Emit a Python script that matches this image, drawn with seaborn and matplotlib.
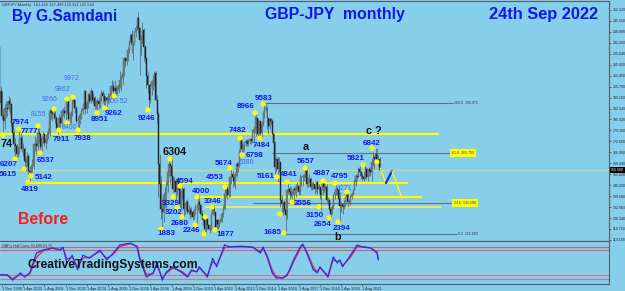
import numpy as np
import seaborn as sns
import matplotlib.pyplot as plt

# GBPJPY monthly, Oct 1998 .. Sep 2022 (month index 0 = Dec 1998)
start_month = -2
first_open = 230.0
close = [196, 203, 188,
         185, 193, 193, 192, 197, 195, 184, 178, 171, 170, 165, 166,
         174, 175, 168, 168, 161, 160, 164, 155, 154, 157, 158, 171,
         171, 170, 178, 177, 169, 175, 177, 172, 174, 177, 177, 191,
         190, 189, 189, 187, 181, 183, 187, 184, 191, 191, 190, 191,
         197, 186, 187, 190, 196, 198, 193, 185, 185, 186, 188, 191,
         193, 203, 192, 196, 201, 197, 203, 198, 199, 194, 197, 197,
         195, 200, 202, 200, 197, 199, 198, 199, 200, 206, 206, 203,
         205, 203, 204, 207, 210, 211, 214, 223, 221, 223, 228, 233,
         237, 232, 232, 239, 241, 247, 241, 234, 234, 240, 230, 223,
         212, 207, 198, 206, 209, 211, 214, 198, 189, 159, 147, 132,
         130, 140, 141, 146, 154, 159, 158, 152, 144, 149, 142, 150,
         145, 135, 142, 144, 132, 132, 136, 130, 131, 129, 130, 127,
         131, 133, 133, 136, 134, 129, 126, 125, 120, 126, 122, 120,
         120, 129, 133, 130, 121, 125, 123, 124, 126, 129, 132, 141,
         145, 140, 143, 151, 153, 151, 149, 152, 159, 158, 167, 174,
         168, 170, 172, 173, 171, 173, 174, 173, 178, 180, 186, 187,
         177, 185, 178, 183, 190, 192, 193, 187, 182, 186, 185, 177,
         172, 157, 162, 156, 160, 137, 135, 136, 131, 128, 143, 144,
         142, 140, 140, 144, 143, 146, 146, 142, 151, 151, 152, 152,
         155, 147, 149, 150, 145, 146, 147, 144, 148, 144, 145, 140,
         143, 148, 145, 145, 137, 137, 132, 129, 133, 140, 142, 144,
         143, 138, 133.5, 135, 133, 134, 139, 141, 136, 136, 139, 141,
         143, 148, 152, 151, 156, 154, 152, 151, 150, 156, 151, 156,
         155, 154, 160, 163, 162, 165, 162, 162, 155.5]
high = [231, 206, 203,
        192, 195, 197, 197, 200, 199, 196, 186, 179, 175, 171, 169,
        179.7, 178, 176, 172, 169, 164, 166, 165, 158, 159, 162, 172,
        176, 174, 181.6, 181, 178, 176, 179, 178, 177, 179, 181, 192,
        193, 191, 192.7, 191, 188, 185, 189, 188, 192, 193, 194, 193,
        198.6, 197, 190, 191, 199, 199.7, 198, 194, 188, 189, 190, 192,
        196, 204, 203, 198, 202, 202, 205, 204, 202, 200, 198, 199,
        199, 201, 204, 204, 202, 200, 200, 202, 202, 207, 210, 209,
        210, 206, 207, 209, 215, 213, 215, 224, 223, 225, 230, 234,
        238, 240, 233, 239.5, 243, 248, 251.1, 242, 237, 245, 241, 231,
        223, 215, 207, 208, 210, 213, 215, 215, 201, 191, 165, 152,
        138, 142, 145, 149, 157, 162, 160, 163, 152, 151, 150, 150.5,
        151, 146, 143, 146, 145, 136, 137, 138, 134, 133, 133, 131,
        132, 135, 135.5, 140, 140, 135, 131, 128, 126, 127, 126, 123,
        122, 130, 133.5, 134, 130, 126, 126, 125, 128, 130, 134, 141,
        145.5, 146, 146, 152, 156.7, 155, 153, 154, 160, 160, 168, 174.8,
        173, 171, 173, 174, 174, 174, 175, 175, 180, 182, 188, 189.7,
        186, 185.5, 185, 185, 191, 195.9, 195, 194, 187, 187, 187, 186,
        178, 173, 163, 163, 163, 160, 140, 136, 137, 131, 144, 148.4,
        146, 145, 143, 145, 146, 147, 148, 146, 152.8, 152, 153, 153,
        156.6, 156, 151, 153, 151, 148, 149, 146, 149, 149, 147, 145,
        144, 148, 148.9, 147, 147, 139, 137, 132, 134, 140, 142, 147.9,
        145, 144.8, 142, 136, 134, 137, 139, 142.7, 142, 138, 140, 142,
        144, 150, 153, 153, 157, 158, 155, 153, 154, 158.2, 157, 156,
        157, 157, 162, 166, 164, 168.7, 168, 164.5, 163.1]
low = [186, 193, 186,
       176.5, 180, 187, 188, 191, 189, 182, 175, 166, 162.1, 163, 163,
       165, 170, 166, 164, 156.2, 155, 158, 153, 148.2, 151.4, 154, 156,
       167, 165, 167, 172, 165.4, 167, 172, 170, 168, 172, 174, 176,
       186, 185, 186, 184, 180, 177, 179.1, 180, 182, 188, 187, 184,
       189, 185, 184, 184, 188, 193, 190, 184, 179.4, 181, 183, 186,
       189, 192, 189.5, 190, 193, 196, 196, 197, 196, 192, 192, 189.5,
       192, 193, 197, 196, 194, 192.6, 194, 196, 197, 199, 203, 202,
       200.5, 200.6, 200.6, 202, 205, 203, 207, 212, 218, 219, 221, 226,
       231, 226, 222, 231, 236, 240, 238, 213, 225, 232, 221, 220,
       205, 202, 192.5, 196, 201, 204, 206, 197, 184, 139.3, 140, 126,
       118.8, 124, 133, 130, 142, 152, 147, 148, 142, 142, 137, 140,
       143, 133.3, 132, 138, 126.8, 129, 131, 129, 128, 126, 127, 125,
       126, 129, 122.5, 131, 130, 128, 125, 122, 117.5, 116.8, 120, 119,
       117.3, 119, 128, 128, 120, 118.8, 120, 121, 124, 124, 127, 131,
       139, 138, 139, 139, 147, 145, 146, 144, 151, 154, 157, 166,
       165, 166, 167, 170, 170, 170, 172, 171, 172, 172.6, 178, 175.7,
       174.8, 176, 176, 175, 182, 187, 191, 180, 177, 180, 183, 177,
       163.9, 153, 155, 148, 154, 133, 130, 128, 130, 116.85, 126, 141,
       138, 139, 136, 135.6, 141, 139, 143, 140, 140, 146, 146, 149,
       151, 145, 145, 148, 143, 143, 144, 141, 142, 141, 142, 138,
       131.5, 140, 142, 143, 136, 134, 131, 126.5, 129, 132, 138, 140,
       140, 137, 124, 130, 129, 132, 133, 137, 133, 135, 134, 138,
       140, 143, 146, 149, 151, 152, 150, 149, 149, 150, 150, 149,
       152, 152, 149, 158, 156, 159, 159, 159.3, 154.5]

# swing points (yellow dots)
dot_m = [0.8, 12.8, 27.2, 39.2, 49.1, 53.6, 49.1, 43.0, 57.4, 71.7, 77.7, 84.5, 110.2,
         9.8, 28.7, 16.6, 21.9, 19.6, 126.8, 134.3, 129.1, 132.1, 135.8, 145.7, 120.0,
         147.2, 158.5, 168.3, 172.1, 181.1, 179.6, 190.9, 197.0, 194.7, 160.8, 152.5,
         153.2, 228.7, 207.5, 215.1, 218.9, 242.3, 251.3, 260.4, 272.5, 239.2, 246.8,
         253.6, 212.8, 209.8, 279.2, 283.0]
dot_p = [176.6, 180.2, 182.0, 192.3, 198.3, 199.5, 183.8, 179.6, 179.6, 189.9, 192.9, 200.1, 191.7,
         162.0, 165.7, 156.0, 151.8, 148.1, 162.0, 145.7, 139.1, 132.4, 127.0, 122.1, 119.7,
         139.1, 133.0, 145.1, 156.6, 164.5, 174.7, 189.9, 195.3, 174.7, 119.1, 116.7,
         127.0, 156.6, 151.2, 148.1, 136.0, 148.7, 147.5, 142.1, 158.4, 133.2, 126.4,
         123.9, 117.3, 128.8, 168.7, 160.2]

# swing labels: text, month, price, style (b = bold blue, l = light blue, k = black wave label)
label_text = ["9972", "9862", "9266", "8155", "200.52", "6386", "4271", "8400",
              "7974", "7777", "7911", "7938", "8951", "9262", "9246", "6207", "6537",
              "5615", "5142", "4819", "4594", "3329", "3202", "2680", "2246", "1883",
              "4000", "3346", "1877", "4553", "5674", "7482", "8966", "9583", "7484",
              "6798", "5657", "5161", "4841", "3556", "4887", "4795", "5821", "3150",
              "2654", "2394", "1685", "6842",
              "74", "6304", "a", "b", "c ?"]
label_m = [52.8, 45.3, 35.5, 27.2, 86.8, 184.2, 258.9, 50.6,
           13.6, 20.4, 44.5, 61.1, 74.0, 84.5, 109.4, 5.3, 33.2,
           4.5, 31.7, 21.1, 138.1, 127.5, 129.8, 134.3, 143.4, 123.8,
           150.2, 159.2, 168.3, 160.8, 167.5, 178.1, 184.2, 197.7, 196.2,
           190.9, 229.4, 199.2, 216.6, 227.2, 241.5, 255.1, 267.2, 236.2,
           242.3, 256.6, 203.8, 279.2,
           3.8, 130.6, 229.4, 253.6, 280.8]
label_p = [211.0, 203.8, 198.3, 189.2, 196.5, 160.2, 144.5, 180.8,
           184.4, 178.4, 174.1, 174.7, 186.2, 189.8, 186.8, 159.0, 161.4,
           152.4, 150.6, 143.3, 148.7, 135.4, 129.4, 123.3, 119.1, 116.7,
           142.1, 136.6, 116.1, 150.6, 159.6, 179.0, 193.5, 198.9, 169.9,
           163.9, 160.8, 151.2, 152.4, 135.4, 153.0, 151.2, 162.6, 127.6,
           122.7, 120.3, 117.3, 171.7,
           171.1, 166.3, 169.3, 114.9, 179.0]
label_kind = ["l"] * 8 + ["b"] * 40 + ["k"] * 5

# support / resistance lines
level_price = [177.15, 147.5, 139.06, 133.0]
level_from = [-1.5, 19.6, 147.2, 153.0]
level_to = [329.8, 306.4, 317.0, 332.0]

# fibonacci levels from the 2015 high to the 2016 low
fib_text = ["100.0  195.870", "61.8  165.700", "23.6  135.500", "0.0  116.850"]
fib_price = [195.87, 165.70, 135.50, 116.85]
fib_from = [197.0, 204.0, 189.4, 213.6]
fib_to = [340.4, 338.9, 340.4, 343.4]

# projected path after the last bar
proj_m = [285.3, 289.8, 294.3, 301.9]
proj_p = [156.6, 147.5, 154.8, 138.5]

# oscillator panel: main line and signal line
osc_m = [-2, 4, 8, 14, 17, 21, 26, 31, 38, 44, 46, 49, 53, 57, 61, 66, 74, 79, 84, 89,
         97, 102, 104, 109, 114, 117, 121, 124, 129, 136, 140, 143, 147, 149, 155, 159,
         162, 168, 172, 180, 189, 195, 197, 200, 204, 207, 212, 215, 217, 220, 225,
         227, 230, 235, 238, 240, 246, 250, 253, 255, 257, 263, 268, 272, 278, 283, 284]
osc_v = [21, 21, 9, 26, 16, 26, 72, 79, 84, 79, 86, 49, 67, 33, 67, 60, 79, 56, 72, 91,
         95, 86, 56, 16, 26, 49, 9, 28, 40, 26, 16, 33, 28, 40, 16, 60,
         40, 91, 86, 88, 86, 72, 86, 63, 26, 14, 14, 21, 33, 56, 86,
         93, 72, 33, 26, 40, 16, 63, 49, 56, 40, 67, 91, 86, 84, 72, 56]
osc_sig = [22, 21, 12, 22, 19, 24, 62, 77, 83, 80, 84, 58, 62, 40, 60, 62, 76, 60, 69, 87,
           94, 88, 62, 22, 24, 44, 14, 25, 37, 29, 19, 30, 29, 37, 20, 52,
           44, 84, 87, 87, 86, 75, 83, 67, 32, 17, 14, 19, 30, 51, 81,
           91, 76, 39, 28, 37, 20, 56, 52, 55, 43, 62, 87, 87, 84, 75, 60]
osc_levels = [86.7, 78.4, 20.2, 10.9]

price_ticks = [252.12, 245.50, 238.88, 232.26, 225.64, 219.02, 212.40, 205.78, 199.16,
               192.54, 185.92, 179.30, 172.68, 166.06, 159.44, 152.82, 146.20, 139.58,
               132.96, 126.34, 119.72, 113.10]
date_ticks = [0, 16, 32, 48, 64, 80, 96, 112, 128, 144, 160, 176, 192, 208, 224, 240, 256, 272]
date_labels = ["1 Dec 1998", "1 Apr 2000", "1 Aug 2001", "1 Dec 2002", "1 Apr 2004",
               "1 Aug 2005", "1 Dec 2006", "1 Apr 2008", "1 Aug 2009", "1 Dec 2010",
               "1 Apr 2012", "1 Aug 2013", "1 Dec 2014", "1 Apr 2016", "1 Aug 2017",
               "1 Dec 2018", "1 Apr 2020", "1 Aug 2021"]

SKY = "#87ceeb"
BLUE = "#1018e8"
sns.set_theme(style="white")
plt.rcParams['font.family'] = ['Liberation Sans', 'DejaVu Sans']

fig = plt.figure(figsize=(6.25, 2.91), dpi=100, facecolor=SKY)
ax = fig.add_axes([0, 50 / 291, 609 / 625, 240 / 291], facecolor=SKY)
ax2 = fig.add_axes([0, 7 / 291, 609 / 625, 43 / 291], facecolor=SKY)

# candles
months = np.arange(len(close)) + start_month
c = np.array(close, dtype=float)
o = np.r_[first_open, c[:-1]]
up = c >= o
ax.vlines(months, low, high, color="#5d6c78", lw=0.6, zorder=2)
ax.bar(months[up], (c - o)[up], bottom=o[up], width=0.75, color="#8c7b58",
       edgecolor="#5d6c78", lw=0.3, zorder=3)
ax.bar(months[~up], (c - o)[~up], bottom=o[~up], width=0.75, color="#202428",
       edgecolor="#202428", lw=0.3, zorder=3)

# levels
ax.hlines(level_price[:3], level_from[:3], level_to[:3], color="#ffff00", lw=1.5, zorder=1)
ax.hlines(level_price[3], level_from[3], level_to[3], color="#dfe87a", lw=1.5, zorder=1)
ax.axhline(close[-1], color="#c8e070", lw=0.7, zorder=1)
ax.hlines(fib_price, fib_from, fib_to, color="#5b7386", lw=0.8, zorder=1)
for i, (t, p, x1) in enumerate(zip(fib_text, fib_price, fib_to)):
    box = dict(boxstyle="square,pad=0.5", fc="#ffff00", ec="none") if i in (1, 2) else None
    ax.text(x1 + 0.8, p, t, fontsize=2.6, color="#333333", ha="left", va="center",
            bbox=box, zorder=4)

# projection
ax.plot(proj_m[:2], proj_p[:2], color="#ffff00", lw=0.9, zorder=4)
ax.plot(proj_m[1:3], proj_p[1:3], color="#1a2cf0", lw=1.6, zorder=4)
ax.plot(proj_m[2:], proj_p[2:], color="#ffff00", lw=0.9, zorder=4)

sns.scatterplot(x=dot_m, y=dot_p, color="#ffff00", s=14, edgecolor="none",
                ax=ax, zorder=5, legend=False)

styles = {"b": dict(fontsize=5.8, color=BLUE, fontweight="bold"),
          "l": dict(fontsize=5.0, color="#4468f2", fontweight="normal"),
          "k": dict(fontsize=7.8, color="#111111", fontweight="bold")}
for t, x, y, k in zip(label_text, label_m, label_p, label_kind):
    ax.text(x, y, t, ha="center", va="center", zorder=6, **styles[k])

ax.set_xlim(-1.5, 458.1)
ax.set_ylim(112.46, 257.56)
ax.set_xticks([])
ax.yaxis.tick_right()
ax.set_yticks(price_ticks)
ax.set_yticklabels([f"{v:.3f}" for v in price_ticks])
ax.tick_params(axis="y", labelsize=2.6, length=1.5, width=0.4, pad=1,
               colors="#222222", right=True, left=False)
for s in ax.spines.values():
    s.set_color("#4f5f6a")
    s.set_linewidth(0.8)
ax.spines["left"].set_visible(False)
ax.annotate(f"{close[-1]:.3f}", xy=(1.003, close[-1]), xycoords=("axes fraction", "data"),
            fontsize=2.6, color="white", va="center", ha="left",
            bbox=dict(boxstyle="square,pad=0.3", fc="black", ec="none"), annotation_clip=False)
ax.text(0.003, 0.99, "GBPJPY,Monthly  161.462 167.499 155.331 155.540", transform=ax.transAxes,
        fontsize=2.8, color="#333333", ha="left", va="top")

# oscillator
ax2.hlines(osc_levels, -1.5, 458.1, colors=["#d0607a", "#d0607a", "#c27a88", "#c27a88"], lw=0.8)
sns.lineplot(x=osc_m, y=osc_sig, color="#ff2020", lw=0.9, ax=ax2)
sns.lineplot(x=osc_m, y=osc_v, color="#2030ff", lw=0.9, ax=ax2)
ax2.set_xlim(-1.5, 458.1)
ax2.set_ylim(0, 100)
ax2.set_yticks([])
ax2.set_xticks(date_ticks)
ax2.set_xticklabels(date_labels, ha="left")
ax2.tick_params(axis="x", labelsize=2.8, length=1.5, width=0.4, pad=0.6,
                colors="#222222", bottom=True)
for s in ax2.spines.values():
    s.set_color("#4f5f6a")
    s.set_linewidth(0.8)
ax2.spines["left"].set_visible(False)
ax2.text(0.003, 0.93, "GAP's Hull Cross 55,600 63.76", transform=ax2.transAxes,
         fontsize=2.6, color="#333333", ha="left", va="top")

fig.text(12 / 625, 1 - 16 / 291, "By G.Samdani", fontsize=11.2, color=BLUE,
         fontweight="bold", ha="left", va="center")
fig.text(265 / 625, 1 - 15 / 291, "GBP-JPY  monthly", fontsize=11.4, color=BLUE,
         fontweight="bold", ha="left", va="center")
fig.text(489 / 625, 1 - 15 / 291, "24th Sep 2022", fontsize=11.8, color=BLUE,
         fontweight="bold", ha="left", va="center")
fig.text(18 / 625, 1 - 219 / 291, "Before", fontsize=11.4, color="#ff1a1a",
         fontweight="bold", ha="left", va="center")
fig.text(27 / 625, 1 - 265 / 291, "CreativeTradingSystems.com", fontsize=8.7,
         color="#111111", fontweight="bold", ha="left", va="center")

fig.savefig("out.png", dpi=100, facecolor=SKY)
